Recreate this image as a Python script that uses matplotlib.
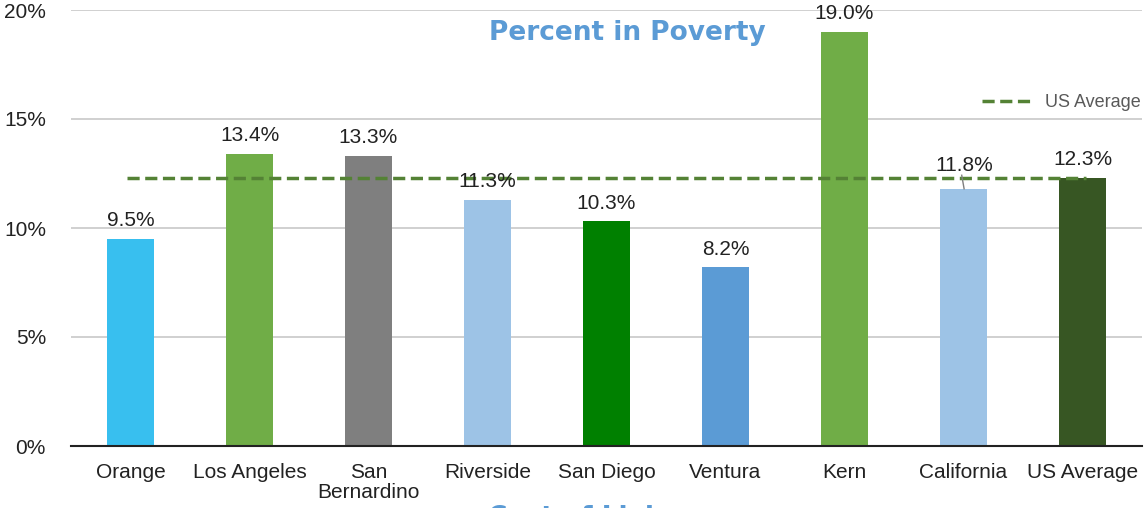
import matplotlib
matplotlib.use("Agg")
import matplotlib.pyplot as plt
from matplotlib.ticker import FuncFormatter

categories = ["Orange", "Los Angeles", "San\nBernardino", "Riverside", "San Diego",
              "Ventura", "Kern", "California", "US Average"]
values = [9.5, 13.4, 13.3, 11.3, 10.3, 8.2, 19.0, 11.8, 12.3]
colors = ["#38BFEF", "#70AD47", "#7F7F7F", "#9DC3E6", "#008000",
          "#5B9BD5", "#70AD47", "#9DC3E6", "#375623"]
us_average = 12.3
yticks = [0, 5, 10, 15, 20]

plt.rcParams['font.family'] = ['Liberation Sans', 'DejaVu Sans']

fig = plt.figure(figsize=(11.44, 5.08), dpi=100)
ax = fig.add_axes([71/1144, 1 - 446/508, 1071/1144, 436/508])

x = list(range(len(categories)))
ax.bar(x, values, width=0.4, color=colors, zorder=3)
for xi, v, name in zip(x, values, categories):
    if name == "California":
        ax.text(xi + 0.01, v + 0.62, f"{v:.1f}%", ha="center", va="bottom", fontsize=15,
                color="#222222", zorder=5)
        ax.plot([xi - 0.015, xi + 0.005], [v + 0.62, v], color="#7F7F7F", linewidth=1, zorder=5)
    else:
        ax.text(xi, v + 0.4, f"{v:.1f}%", ha="center", va="bottom", fontsize=15,
                color="#222222", zorder=5)

ax.plot([x[0] - 0.03, x[-1] + 0.03], [us_average, us_average], linestyle=(0, (3.5, 1.6)),
        color="#548235", linewidth=2.5, zorder=4, label="US Average")

ax.set_xlim(-0.5, 8.5)
ax.set_ylim(0, 20)
ax.set_yticks(yticks)
ax.yaxis.set_major_formatter(FuncFormatter(lambda v, p: f"{v:.0f}%"))
ax.set_xticks(x)
ax.set_xticklabels(categories, linespacing=1.1)
ax.tick_params(axis="both", length=0, labelsize=15, colors="#222222")
ax.tick_params(axis="x", pad=12)
ax.tick_params(axis="y", pad=18)
ax.grid(axis="y", color="#C8C8C8", linewidth=1.2, zorder=0)
for s in ["top", "right", "left"]:
    ax.spines[s].set_visible(False)
ax.spines["bottom"].set_color("#222222")
ax.spines["bottom"].set_linewidth(1.5)
ax.spines["bottom"].set_zorder(6)

leg = ax.legend(loc="upper right", bbox_to_anchor=(1.014, 0.845), frameon=False,
                fontsize=13, handlelength=2.9, handletextpad=0.6)
for t in leg.get_texts():
    t.set_color("#595959")

fig.text(627/1144, 1 - 33/508, "Percent in Poverty", ha="center", va="center",
         fontsize=19, fontweight="bold", color="#5B9BD5", family="DejaVu Sans")
fig.text(590/1144, 1 - 518/508, "Cost of Living", ha="center", va="center",
         fontsize=19, fontweight="bold", color="#5B9BD5", family="DejaVu Sans")

fig.savefig("out.png", dpi=100)
